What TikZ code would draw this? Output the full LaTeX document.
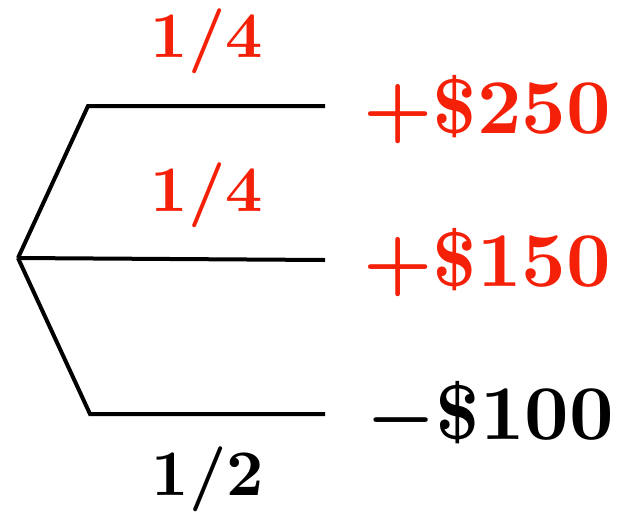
\documentclass[tikz,border=0pt]{standalone}
\usepackage{graphicx}
\definecolor{lred}{RGB}{245,32,8}
\newcommand{\bigpay}[1]{\scalebox{7.75}{\boldmath$#1$}}
\newcommand{\bigprob}[1]{\scalebox{6.5}{\boldmath$#1$}}
\begin{document}
\begin{tikzpicture}[x=1pt,y=-1pt,
  branch/.style={line width=4pt,line join=miter,black},
  payoff/.style={inner sep=0pt,anchor=base},
  prob/.style={inner sep=0pt,anchor=base}]
\useasboundingbox (0,0) rectangle (617,512);
\coordinate (root) at (18,258);
\coordinate (ua) at (88,106);
\coordinate (ub) at (325,106);
\coordinate (mb) at (325,260);
\coordinate (la) at (90,414);
\coordinate (lb) at (325,414);
\draw[branch] (root) -- (ua) -- (ub);
\draw[branch] (root) -- (mb);
\draw[branch] (root) -- (la) -- (lb);
\node[prob,text=lred] (p1) at (207,57) {\bigprob{1/4}};
\node[prob,text=lred] (p2) at (207,211) {\bigprob{1/4}};
\node[prob] (p3) at (208,495) {\bigprob{1/2}};
\node[payoff,text=lred] (v1) at (487,133) {\bigpay{{+}\$250}};
\node[payoff,text=lred] (v2) at (487,286) {\bigpay{{+}\$150}};
\node[payoff] (v3) at (490,439) {\bigpay{{-}\$100}};
\end{tikzpicture}
\end{document}
